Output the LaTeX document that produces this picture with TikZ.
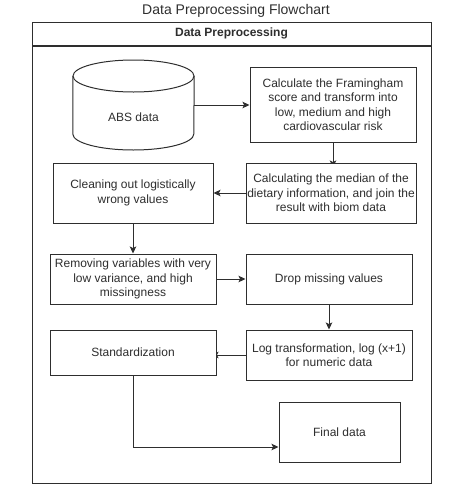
\documentclass[tikz,border=0pt]{standalone}
\usepackage{fontspec}
\setmainfont{Liberation Sans}
\usepackage{xcolor}
\usetikzlibrary{arrows.meta}
\usetikzlibrary{positioning}
\usetikzlibrary{backgrounds}
\colorlet{ink}{black!82}

\begin{document}
\begin{tikzpicture}[
				x=1pt, y=1pt,
				node distance=25pt,
				line/.style={draw=ink, line width=1pt},
				arrow/.style={line, -{Stealth[length=7pt, width=6.5pt, inset=1.5pt]}},
				tucked/.style={arrow, shorten >=-5pt},
				block/.style={line, fill=white, text=ink, align=center, inner sep=1pt,
					font=\fontsize{12}{14.5}\selectfont},
			]
				\useasboundingbox (0,0) rectangle (460,-490);

				\node[text=ink, font=\fontsize{14}{16}\selectfont] (title) at (236,-11) {Data Preprocessing Flowchart};
				\node[block, minimum width=399pt, minimum height=23pt, font=\fontsize{12}{14}\selectfont\bfseries] (lane) at (231.5,-33.5) {Data Preprocessing};
				\node[line, minimum width=399pt, minimum height=437pt, below=0pt of lane] (lanebody) {};

				\node[minimum width=121pt, minimum height=90pt, inner sep=0pt] (abs) at (133.5,-105) {};
				\draw[line] (133.5,-76) ellipse[x radius=60.5, y radius=16];
				\draw[line] (abs.west |- 0,-76) -- (abs.west |- 0,-134) arc[start angle=180, end angle=360, x radius=60.5, y radius=16] -- (abs.east |- 0,-76);
				\node[text=ink, font=\fontsize{12}{14}\selectfont] (abslabel) at (133.5,-117) {ABS data};

				\node[block, minimum width=166pt, minimum height=75pt] (framingham) at (333,-104.5) {Calculate the Framingham\\score and transform into\\low, medium and high\\cardiovascular risk};
				\node[block, minimum width=170pt, minimum height=60pt, below=20pt of framingham.south east, anchor=north east] (median) {Calculating the median of the\\dietary information, and join the\\result with biom data};
				\node[block, minimum width=160pt, minimum height=60pt, left=32pt of median] (cleaning) {Cleaning out logistically\\wrong values};
				\node[block, minimum width=166pt, minimum height=50pt, below=30pt of cleaning] (removing) {Removing variables with very\\low variance, and high\\missingness};
				\node[block, minimum width=166pt, minimum height=50pt, right=29pt of removing] (drop) {Drop missing values};
				\node[block, minimum width=166pt, minimum height=50pt, below=of drop] (logtrans) {Log transformation, log (x+1)\\for numeric data};
				\node[block, minimum width=166pt, minimum height=45pt, below=of removing] (standard) {Standardization};
				\node[block, minimum width=121pt, minimum height=60pt] (final) at (339.5,-432) {Final data};

				\begin{scope}[on background layer]
					\draw[arrow] (abs.east) -- (abs.east -| framingham.west);
					\draw[tucked] (framingham.south) -- (framingham.south |- median.north);
					\draw[arrow] (median.west) -- (cleaning.east);
					\draw[arrow] (cleaning.south) -- (removing.north);
					\draw[arrow] (removing.east) -- (drop.west);
					\draw[arrow] (drop.south) -- (logtrans.north);
					\draw[tucked] (logtrans.west) -- (logtrans.west -| standard.east);
					\draw[arrow] (standard.south) |- ([yshift=-15pt]final.west);
				\end{scope}
			\end{tikzpicture}
\end{document}
